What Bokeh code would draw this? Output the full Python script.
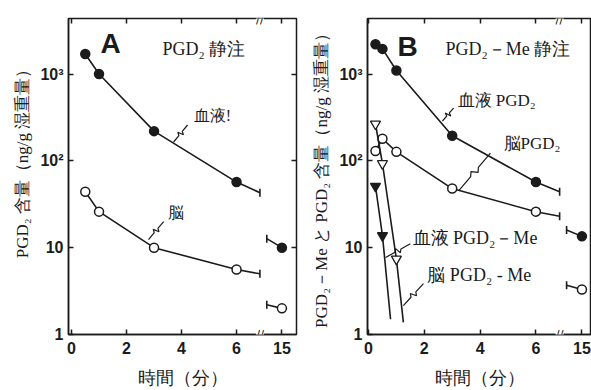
import math
from bokeh.plotting import figure
from bokeh.layouts import row
from bokeh.models import Range1d, FixedTicker, LinearAxis, LogAxis, Label
from bokeh.embed import file_html
from bokeh.resources import INLINE

# ---------------- data (time in min, PGD2 content in ng/g wet weight) -------------
x_tick_times = [0, 2, 4, 6, 15]
x_tick_labels = ["0", "2", "4", "6", "15"]
y_ticks = [1, 10, 100, 1000]
y_tick_labels = ["1", "10", "10\u00b2", "10\u00b3"]
BREAK_T = 6.85          # where the time axis is broken

# Panel A : PGD2 i.v.
a_blood_t = [0.5, 1, 3, 6]
a_blood_v = [1700, 1000, 220, 57]
a_blood_break_v = 43
a_blood_late_t = [14, 15]
a_blood_late_v = [12.7, 10]

a_brain_t = [0.5, 1, 3, 6]
a_brain_v = [44, 26, 10, 5.6]
a_brain_break_v = 5.0
a_brain_late_t = [14, 15]
a_brain_late_v = [2.2, 2.0]

# Panel B : PGD2-Me i.v.
b_blood_t = [0.25, 0.5, 1, 3, 6]
b_blood_v = [2200, 1950, 1100, 195, 57]
b_blood_break_v = 44
b_blood_late_t = [14, 15]
b_blood_late_v = [16, 13.5]

b_brain_t = [0.25, 0.5, 1, 3, 6]
b_brain_v = [130, 180, 127, 48, 26]
b_brain_break_v = 23
b_brain_late_t = [14, 15]
b_brain_late_v = [3.7, 3.3]

b_bloodme_t = [0.25, 0.5]
b_bloodme_v = [51, 13.8]
b_bloodme_end = (0.79, 1.5)

b_brainme_t = [0.25, 0.5, 1.0]
b_brainme_v = [266, 93, 7.4]
b_brainme_end = (1.25, 1.38)

y_label_a = "\u3000\u3000PGD₂ 含量（ng/g 湿重量）"
y_label_b = "PGD₂－Me と PGD₂ 含量（ng/g 湿重量）"
x_label = "時間（分）"

INK = "#1b1b1b"
SERIF = "Liberation Serif"
LW = 1.6
Y_TOP = 10 ** 3.64


def xpos(t):
    """broken time axis: linear up to the break, 15 min placed after it"""
    if isinstance(t, (list, tuple)):
        return [xpos(v) for v in t]
    return t if t <= 7 else 7.65 + (t - 15) * 0.55


def make_fig(width, bl, br, x0, x1, right_axis, ylab):
    p = figure(width=width, height=390, x_range=Range1d(x0, x1),
               y_range=Range1d(1, Y_TOP), y_axis_type="log",
               output_backend="svg", toolbar_location=None,
               min_border_left=bl, min_border_right=br,
               min_border_top=18, min_border_bottom=55)
    p.grid.grid_line_color = None
    p.background_fill_color = "white"
    p.border_fill_color = "white"
    p.outline_line_color = INK
    p.outline_line_width = 1.5

    xt = xpos(x_tick_times)
    xov = {xp: lab for xp, lab in zip(xt, x_tick_labels)}
    yov = {yt: lab for yt, lab in zip(y_ticks, y_tick_labels)}

    for ax in p.xaxis:
        ax.ticker = FixedTicker(ticks=xt)
        ax.major_label_overrides = xov
        ax.axis_label = x_label
        ax.axis_label_standoff = 11
        ax.major_label_standoff = 7
    for ax in p.yaxis:
        ax.ticker = FixedTicker(ticks=y_ticks)
        ax.major_label_overrides = yov
        ax.major_label_standoff = 5
        ax.axis_label = ylab
        ax.axis_label_standoff = 5
    for ax in p.xaxis + p.yaxis:
        ax.axis_label_text_font = SERIF
        ax.axis_label_text_font_style = "normal"
        ax.axis_label_text_font_size = "17px"
        ax.axis_label_text_color = INK
        ax.major_label_text_font = "Liberation Sans"
        ax.major_label_text_font_style = "bold"
        ax.major_label_text_font_size = "16px"
        ax.major_label_text_color = INK
        ax.axis_line_color = INK
        ax.axis_line_width = 1.5
        ax.major_tick_line_color = INK
        ax.major_tick_line_width = 1.5
        ax.major_tick_in = 5
        ax.major_tick_out = 0
        ax.minor_tick_line_color = None
    for ax in p.xaxis:
        ax.axis_label_text_font_size = "18px"

    top = LinearAxis(ticker=FixedTicker(ticks=xt), major_label_text_font_size="2px",
                     major_label_text_color=None,
                     major_label_standoff=0, major_tick_in=5, major_tick_out=0,
                     axis_line_color=None, major_tick_line_color=INK,
                     major_tick_line_width=1.5, minor_tick_line_color=None)
    p.add_layout(top, "above")
    if right_axis:
        r = LogAxis(ticker=FixedTicker(ticks=y_ticks[1:]), major_label_text_font_size="2px",
                    major_label_text_color=None,
                    major_label_standoff=0, major_tick_in=5, major_tick_out=0,
                    axis_line_color=None, major_tick_line_color=INK,
                    major_tick_line_width=1.5, minor_tick_line_color=None)
        p.add_layout(r, "right")

    # axis break marks
    for yy in (1, Y_TOP):
        p.add_layout(Label(x=xpos(BREAK_T), y=yy, text="//", text_align="center",
                           text_baseline="middle", text_font="DejaVu Sans",
                           text_font_size="12px", text_color=INK,
                           background_fill_color="white"))
    return p


def draw_series(p, t, v, break_v, late_t, late_v, filled, marker="circle", size=9):
    fill = INK if filled else "white"
    p.line(xpos(t) + [xpos(BREAK_T)], v + [break_v], line_color=INK, line_width=LW)
    p.line(xpos(late_t), late_v, line_color=INK, line_width=LW)
    p.scatter([xpos(BREAK_T), xpos(late_t[0])], [break_v, late_v[0]], marker="dash",
              angle=math.pi / 2, size=8, line_color=INK, line_width=LW)
    p.scatter(xpos(t) + [xpos(late_t[-1])], v + [late_v[-1]], marker=marker, size=size,
              fill_color=fill, line_color=INK, line_width=1.5)


def pointer(p, kx, ky, a, b):
    """leader line with a small squiggle, a/b in data coords"""
    ax, ay = a[0] * kx, math.log10(a[1]) * ky
    bx, by = b[0] * kx, math.log10(b[1]) * ky
    dx, dy = bx - ax, by - ay
    L = math.hypot(dx, dy)
    nx, ny = -dy / L, dx / L
    pts = [(0, 0), (0.38, 0), (0.46, 3), (0.54, -3), (0.62, 0), (1, 0)]
    xs, ys = [], []
    for f, o in pts:
        sx, sy = ax + dx * f + nx * o, ay + dy * f + ny * o
        xs.append(sx / kx)
        ys.append(10 ** (sy / ky))
    p.line(xs, ys, line_color=INK, line_width=1.2)


def label(p, x, y, text, size="17px", font=SERIF, style="normal", angle=0, align="left"):
    p.add_layout(Label(x=x, y=y, text=text, text_font=font, text_font_size=size,
                       text_font_style=style, text_color=INK, text_align=align,
                       text_baseline="middle", angle=angle))


# ---------------- panel A ----------------
A_X0, A_X1 = -0.11, 8.18
pA = make_fig(300, 68, 4, A_X0, A_X1, True, y_label_a)
draw_series(pA, a_blood_t, a_blood_v, a_blood_break_v, a_blood_late_t, a_blood_late_v, True)
draw_series(pA, a_brain_t, a_brain_v, a_brain_break_v, a_brain_late_t, a_brain_late_v, False)
kxA, kyA = 27.5, 87.1
label(pA, 1.05, 2250, "A", size="28px", font="Liberation Sans", style="bold")
label(pA, 3.31, 1937, "PGD₂ 静注", size="18px")
label(pA, 4.44, 329, "血液!", size="16px")
label(pA, 3.49, 25.3, "脳", size="16px")
pointer(pA, kxA, kyA, (3.71, 165), (4.22, 259))
pointer(pA, kxA, kyA, (2.8, 12.4), (3.35, 20))

# ---------------- panel B ----------------
B_X0 = -0.036
B_X1 = B_X0 + 224 / 27.9
pB = make_fig(291, 67, 0, B_X0, B_X1, False, y_label_b)
draw_series(pB, b_blood_t, b_blood_v, b_blood_break_v, b_blood_late_t, b_blood_late_v, True)
draw_series(pB, b_brain_t, b_brain_v, b_brain_break_v, b_brain_late_t, b_brain_late_v, False)
pB.line(b_bloodme_t + [b_bloodme_end[0]], b_bloodme_v + [b_bloodme_end[1]],
        line_color=INK, line_width=LW)
pB.scatter(b_bloodme_t, b_bloodme_v, marker="inverted_triangle", size=10,
           fill_color=INK, line_color=INK, line_width=1.3)
pB.line(b_brainme_t + [b_brainme_end[0]], b_brainme_v + [b_brainme_end[1]],
        line_color=INK, line_width=LW)
pB.scatter(b_brainme_t, b_brainme_v, marker="inverted_triangle", size=10,
           fill_color="white", line_color=INK, line_width=1.3)
kxB, kyB = 27.9, 87.1
label(pB, 1.04, 2100, "B", size="28px", font="Liberation Sans", style="bold")
label(pB, 2.76, 1940, "PGD₂－Me 静注", size="18px")
label(pB, 3.19, 490, "血液 PGD₂", size="17px")
label(pB, 4.84, 157, "脳PGD₂", size="17px")
label(pB, 1.58, 13, "血液 PGD₂－Me", size="18px")
label(pB, 2.11, 4.8, "脳 PGD₂ - Me", size="18px")
pointer(pB, kxB, kyB, (2.65, 288), (3.05, 406))
pointer(pB, kxB, kyB, (3.23, 45), (4.37, 123))
pointer(pB, kxB, kyB, (0.61, 7.7), (1.5, 11.1))
pointer(pB, kxB, kyB, (1.25, 2.15), (1.97, 3.86))

layout = row(pA, pB)
open("out.html", "w").write(file_html(layout, INLINE))
